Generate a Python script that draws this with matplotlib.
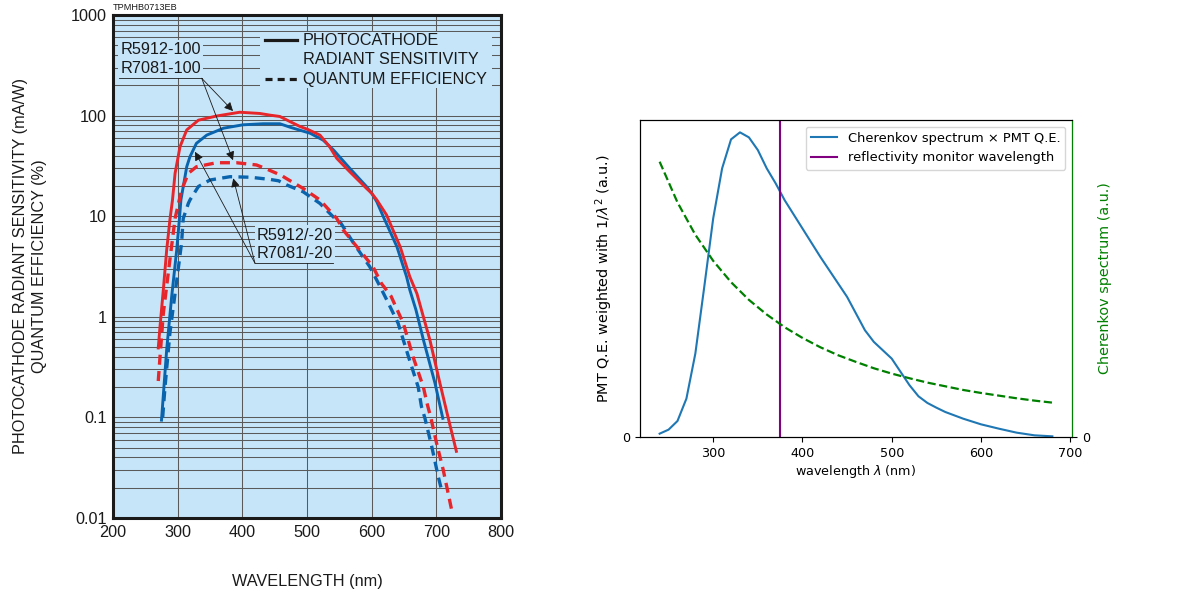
import numpy as np
import matplotlib.pyplot as plt
from matplotlib.ticker import LogLocator, NullFormatter
from matplotlib.patches import Rectangle

# ---- left panel: datasheet curves (wavelength nm, value) ----
red_sens_wl = [270, 272.7, 277.8, 283, 288, 292, 296, 303.6, 314, 332, 360, 396, 427, 443, 458,
               474, 489, 501, 520, 535, 546, 566, 592, 600, 608, 623, 644, 659, 670, 677, 690,
               705.6, 718.5, 731]
red_sens = [0.49, 0.80, 1.85, 4.6, 9.2, 14.5, 26.7, 49, 72, 90, 99, 108, 105, 101, 98,
            87, 78, 73, 64, 49, 37.6, 27.7, 18.9, 16.9, 14.5, 10.3, 4.98, 2.5, 1.7, 1.17, 0.59,
            0.218, 0.098, 0.046]

blue_sens_wl = [275, 283, 290.7, 298.5, 302.6, 305, 311, 314, 319, 329, 345, 371, 401, 432, 458,
                474, 505, 525, 541, 566, 592, 600, 608, 618, 639, 654, 659, 668.5, 680, 698, 710]
blue_sens = [0.094, 0.47, 1.58, 4.6, 9.2, 14.5, 24, 31, 39, 53, 64, 75, 81, 83, 83,
             76.6, 66.7, 57, 45.5, 30, 19.7, 16.9, 13.9, 9.9, 4.98, 2.5, 1.85, 1.17, 0.59, 0.218, 0.098]

red_qe_wl = [270, 272.7, 277.8, 288, 296, 306, 316.5, 329, 360, 391, 422, 440, 460, 469, 494,
             520, 546, 556, 577, 602, 615, 630, 649, 664, 680, 685, 691.7, 700.5, 710.7, 723.7]
red_qe = [0.23, 0.40, 1.08, 3.7, 9.5, 18.2, 26.7, 31, 34, 34, 32.3, 29, 25.5, 23.5, 18.9,
          14.5, 9.5, 7.3, 4.98, 3.15, 2.15, 1.6, 0.86, 0.40, 0.20, 0.143, 0.098, 0.055, 0.030, 0.012]

blue_qe_wl = [276.8, 280.4, 288, 296, 306, 308.6, 316.5, 319, 332, 350, 381, 412, 443, 456, 469,
              494, 520, 543, 551, 572, 597, 613, 626, 641, 657, 672, 677, 682.4, 693, 703, 709]
blue_qe = [0.10, 0.20, 0.69, 1.71, 5.4, 9.5, 13.4, 14.5, 19.7, 22.9, 24.7, 24.4, 23.2, 22.5, 20.4,
           17.5, 13.4, 9.5, 8.8, 5.4, 3.15, 2.0, 1.36, 0.86, 0.40, 0.20, 0.128, 0.098, 0.051, 0.0257, 0.018]

ytick_vals = [0.01, 0.1, 1, 10, 100, 1000]
ytick_labels = ['0.01', '0.1', '1', '10', '100', '1000']

# ---- right panel ----
weighted_wl = [240, 250, 260, 270, 280, 290, 300, 310, 320, 330, 340, 350, 360, 370, 380, 400,
               420, 440, 450, 460, 470, 480, 490, 500, 510, 520, 530, 540, 550, 560, 580, 600,
               620, 640, 660, 680]
weighted_qe = [0.010, 0.022, 0.048, 0.115, 0.250, 0.450, 0.655, 0.805, 0.892, 0.913, 0.898, 0.860,
               0.805, 0.760, 0.710, 0.625, 0.540, 0.460, 0.420, 0.370, 0.320, 0.285, 0.260, 0.235,
               0.195, 0.155, 0.122, 0.102, 0.088, 0.075, 0.055, 0.038, 0.025, 0.013, 0.005, 0.002]

cher_wl = [240, 260, 280, 300, 320, 340, 360, 380, 400, 420, 440, 460, 480, 500, 520, 540,
           560, 580, 600, 620, 640, 660, 680]
cher = [0.825, 0.703, 0.606, 0.528, 0.464, 0.411, 0.367, 0.329, 0.297, 0.269, 0.245, 0.225,
        0.206, 0.190, 0.176, 0.163, 0.152, 0.141, 0.132, 0.124, 0.116, 0.109, 0.103]

monitor_wl = 375

W, H = 1180, 593
fig = plt.figure(figsize=(W / 100, H / 100), dpi=100)

bg = '#c6e5f9'
red = '#e6262b'
blue = '#0a64ad'
ink = '#1a1a1a'
lfont = ['Liberation Sans', 'DejaVu Sans']
fs = 11.7

axL = fig.add_axes([113 / W, 1 - 518 / H, 388 / W, 503 / H])
axL.set_facecolor(bg)
axL.set_yscale('log')
axL.set_xlim(200, 800)
axL.set_ylim(0.01, 1000)
axL.set_xticks(range(200, 801, 100))
axL.set_yticks(ytick_vals)
axL.set_yticklabels(ytick_labels)
axL.yaxis.set_minor_locator(LogLocator(base=10, subs=np.arange(2, 10), numticks=20))
axL.yaxis.set_minor_formatter(NullFormatter())
axL.tick_params(which='both', length=0)
axL.tick_params(axis='y', pad=4.5)
axL.tick_params(axis='x', pad=5)
for lab in axL.get_xticklabels() + axL.get_yticklabels():
    lab.set_family(lfont)
    lab.set_fontsize(fs)
    lab.set_color(ink)
axL.grid(True, which='both', axis='y', color='#5a5a5a', lw=0.75)
axL.grid(True, which='major', axis='x', color='#5a5a5a', lw=0.75)
for sp in axL.spines.values():
    sp.set_linewidth(2.2)
    sp.set_color(ink)

axL.plot(blue_sens_wl, blue_sens, color=blue, lw=2.1, zorder=3)
axL.plot(blue_qe_wl, blue_qe, color=blue, lw=2.4, dashes=(3, 1.9), zorder=3)
axL.plot(red_sens_wl, red_sens, color=red, lw=2.1, zorder=3.1)
axL.plot(red_qe_wl, red_qe, color=red, lw=2.4, dashes=(3, 1.9), zorder=3.1)

# legend drawn by hand (line sits on first text row)
axL.add_patch(Rectangle((0.379, 0.855), 0.598, 0.111, transform=axL.transAxes,
                        facecolor=bg, edgecolor='none', zorder=2.5))
axL.plot([0.392, 0.474], [0.950, 0.950], transform=axL.transAxes, color=ink, lw=2.3, zorder=4)
axL.plot([0.392, 0.474], [0.872, 0.872], transform=axL.transAxes, color=ink, lw=2.3,
         dashes=(2.2, 1.6), zorder=4)
for yy, txt in [(0.950, 'PHOTOCATHODE'), (0.911, 'RADIANT SENSITIVITY'), (0.872, 'QUANTUM EFFICIENCY')]:
    axL.text(0.490, yy, txt, transform=axL.transAxes, ha='left', va='center',
             family=lfont, fontsize=fs, color=ink, zorder=4)

# type labels with leader lines
box = dict(facecolor=bg, edgecolor='none', pad=1.5)
axL.text(211.6, 449, 'R5912-100', ha='left', va='center', family=lfont, fontsize=fs, color=ink, bbox=box, zorder=4)
axL.text(211.6, 295, 'R7081-100', ha='left', va='center', family=lfont, fontsize=fs, color=ink, bbox=box, zorder=4)
axL.text(422.2, 6.5, 'R5912/-20', ha='left', va='center', family=lfont, fontsize=fs, color=ink, bbox=box, zorder=4)
axL.text(422.2, 4.28, 'R7081/-20', ha='left', va='center', family=lfont, fontsize=fs, color=ink, bbox=box, zorder=4)
axL.plot([209.7, 337.2], [235, 235], color=ink, lw=0.6, zorder=4)
axL.plot([419.6, 540.2], [3.4, 3.4], color=ink, lw=0.6, zorder=4)
arrow = dict(arrowstyle='-|>', lw=0.6, color=ink, mutation_scale=13, shrinkA=0, shrinkB=0)
for start, tip in [((337.2, 235), (385.6, 111)), ((337.2, 235), (385.6, 36)),
                   ((419.6, 3.4), (326.8, 43.7)), ((419.6, 3.4), (386, 23.8))]:
    axL.annotate('', xy=tip, xytext=start, arrowprops=arrow, zorder=4)

axL.set_xlabel('WAVELENGTH (nm)', family=lfont, fontsize=fs, color=ink)
axL.xaxis.set_label_coords(0.5, -0.112)
axL.set_ylabel('PHOTOCATHODE RADIANT SENSITIVITY (mA/W)\nQUANTUM EFFICIENCY (%)',
               family=lfont, fontsize=fs, color=ink, linespacing=1.3)
axL.yaxis.set_label_coords(-0.17, 0.5)
fig.text(113 / W, 1 - 8 / H, 'TPMHB0713EB', family=lfont, fontsize=6.6, color=ink,
         ha='left', va='center')

# ---- right panel ----
rfs = 9.2
axR = fig.add_axes([640 / W, 1 - 437 / H, 432 / W, 317 / H])
axR.plot(weighted_wl, weighted_qe, color='#1f77b4', lw=1.5,
         label='Cherenkov spectrum \u00d7 PMT Q.E.')
axR.axvline(monitor_wl, color='purple', lw=1.5, label='reflectivity monitor wavelength')
axR.set_xlim(218, 702)
axR.set_ylim(0, 0.95)
axR.set_yticks([0])
axR.set_xticks([300, 400, 500, 600, 700])
axR.tick_params(labelsize=rfs)
axR.set_xlabel(r'wavelength $\lambda$ (nm)', fontsize=rfs, labelpad=2)
axR.set_ylabel(r'PMT Q.E. weighted with 1/$\lambda^2$ (a.u.)', fontsize=10.4, labelpad=5)
axR.legend(loc='upper right', fontsize=9.4)

axR2 = axR.twinx()
axR2.plot(cher_wl, cher, color='green', ls='--', lw=1.6)
axR2.set_ylim(0, 0.95)
axR2.set_yticks([0])
axR2.tick_params(labelsize=rfs)
axR2.spines['right'].set_color('green')
axR2.set_ylabel('Cherenkov spectrum (a.u.)', color='green', fontsize=10.4, labelpad=6)

fig.savefig('out.png', dpi=100)
